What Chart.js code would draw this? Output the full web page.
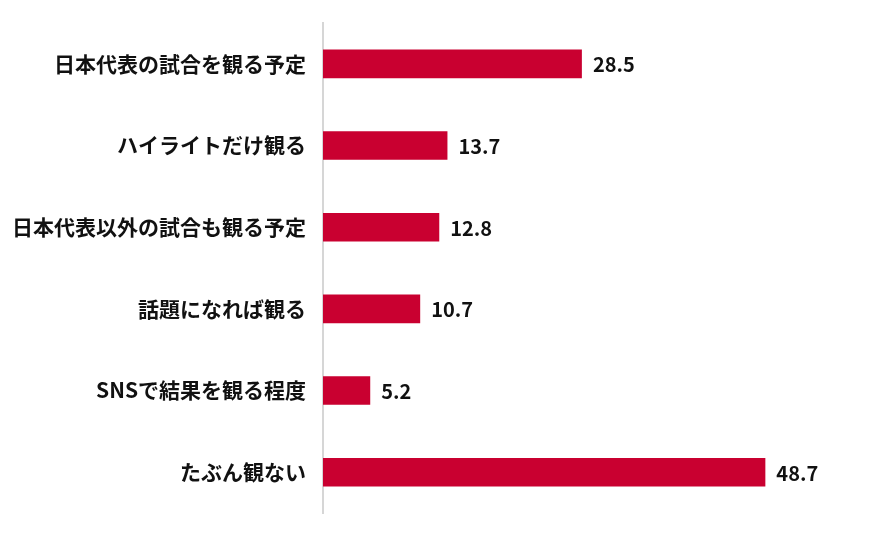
<!DOCTYPE html>
<html>
<head>
<meta charset="utf-8">
<script src="https://cdn.jsdelivr.net/npm/chart.js@4"></script>
<style>
  html, body { margin: 0; padding: 0; background: #fff; }
  #wrap { width: 890px; height: 536px; position: relative; }
</style>
</head>
<body>
<div id="wrap"><canvas id="c"></canvas></div>
<script>
const categories = [
  "日本代表の試合を観る予定",
  "ハイライトだけ観る",
  "日本代表以外の試合も観る予定",
  "話題になれば観る",
  "SNSで結果を観る程度",
  "たぶん観ない",
];
const values = [28.5, 13.7, 12.8, 10.7, 5.2, 48.7];

const fontFamily = '"Noto Sans CJK JP", "Noto Sans", sans-serif';

// draw the numbers at the end of each bar
const valueLabels = {
  id: "valueLabels",
  afterDatasetsDraw(chart) {
    const ctx = chart.ctx;
    const meta = chart.getDatasetMeta(0);
    ctx.save();
    ctx.font = "bold 20px " + fontFamily;
    ctx.fillStyle = "#111";
    ctx.textAlign = "left";
    ctx.textBaseline = "middle";
    meta.data.forEach((bar, i) => {
      ctx.fillText(values[i].toFixed(1), bar.x + 11, bar.y + 1);
    });
    ctx.restore();
  },
};

new Chart(document.getElementById("c"), {
  type: "bar",
  data: {
    labels: categories,
    datasets: [
      {
        data: values,
        backgroundColor: "#C90030",
        barPercentage: 0.35,
        categoryPercentage: 1.0,
      },
    ],
  },
  options: {
    indexAxis: "y",
    responsive: true,
    maintainAspectRatio: false,
    animation: false,
    layout: {
      padding: { top: 23, bottom: 23, right: 22, left: 0 },
    },
    plugins: {
      legend: { display: false },
      tooltip: { enabled: false },
    },
    scales: {
      x: {
        display: false,
        min: 0,
        max: 60,
      },
      y: {
        afterFit(scale) {
          scale.width = 323;
          scale.paddingTop = 0;
          scale.paddingBottom = 0;
        },
        grid: { display: false, drawTicks: false },
        border: { display: true, color: "#d6d6d6", width: 2 },
        ticks: {
          padding: 17,
          color: "#111",
          font: { family: fontFamily, size: 21, weight: "bold" },
        },
      },
    },
  },
  plugins: [valueLabels],
});
</script>
</body>
</html>
